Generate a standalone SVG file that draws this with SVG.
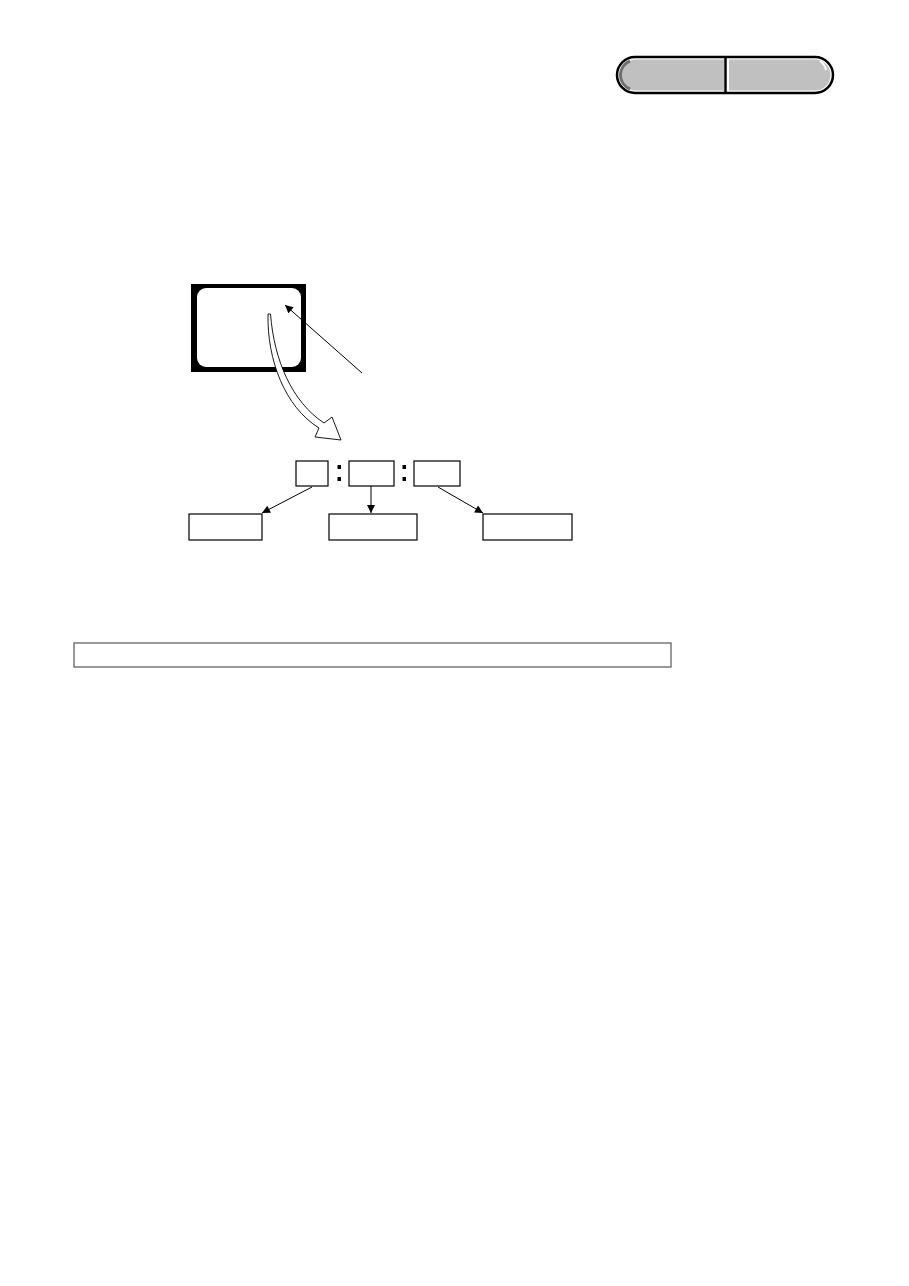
<svg xmlns="http://www.w3.org/2000/svg" width="909" height="1286" viewBox="0 0 909 1286">
<style>
.box{fill:#fff;stroke:#000;stroke-width:1.2}
.conn{stroke:#000;stroke-width:1;fill:none}
</style>
<defs>
<marker id="ah" viewBox="0 0 10 10" refX="10" refY="5" markerWidth="10" markerHeight="8" markerUnits="userSpaceOnUse" orient="auto">
<path d="M0,0 L10,5 L0,10 Z" fill="#000"/>
</marker>
</defs>
<rect width="909" height="1286" fill="#fff"/>
<g id="tab">
<rect x="617" y="57" width="216" height="36" rx="18" fill="#fff" stroke="#000" stroke-width="2.5"/>
<path d="M724,59.5 L636,59.5 A15.5,15.5 0 0 0 636,90.5 L724,90.5 Z" fill="#c0c0c0"/>
<path d="M630,61 A15,15 0 0 0 630,89" fill="none" stroke="#707070" stroke-width="3"/>
<path d="M729,59.5 L815,59.5 A15.5,15.5 0 0 1 815,90.5 L729,90.5 Z" fill="#c0c0c0"/>
<path d="M820,61 A14,14 0 0 1 826,70" fill="none" stroke="#fff" stroke-width="2"/>
<line x1="725.5" y1="57" x2="725.5" y2="93" stroke="#000" stroke-width="2.5"/>
</g>
<g id="monitor">
<rect x="191" y="284" width="115" height="88" fill="#000"/>
<rect x="197" y="288" width="104" height="79" rx="9" fill="#fff"/>
</g>
<g id="curved-arrow">
<path d="M268,314 C267,360 285,407 319,428 L315,437 L341,440 L332,417 L324,423 C292,402 274,360 270.5,314 Z" fill="#fff" stroke="#000" stroke-width="0.9" stroke-linejoin="miter"/>
</g>
<g id="t1"><rect class="box" x="296" y="461" width="32" height="25"/></g>
<g id="t2"><rect class="box" x="349" y="461" width="45" height="25"/></g>
<g id="t3"><rect class="box" x="414" y="461" width="46" height="25"/></g>
<g id="colons" fill="#000">
<rect x="337.5" y="465" width="3.5" height="4"/>
<rect x="337.5" y="477" width="3.5" height="4"/>
<rect x="402.5" y="465" width="3.5" height="4"/>
<rect x="402.5" y="477" width="3.5" height="4"/>
</g>
<g id="b1"><rect class="box" x="189" y="514" width="73" height="26"/></g>
<g id="b2"><rect class="box" x="329" y="514" width="88" height="26"/></g>
<g id="b3"><rect class="box" x="483" y="514" width="89" height="26"/></g>
<g id="bar"><rect x="74" y="643" width="597" height="24" fill="#fff" stroke="#555" stroke-width="1.2"/></g>
<g id="connectors">
<line class="conn" x1="362" y1="373" x2="285" y2="305" marker-end="url(#ah)"/>
<line class="conn" x1="312" y1="487" x2="262" y2="513" marker-end="url(#ah)"/>
<line class="conn" x1="371" y1="486" x2="371" y2="513" marker-end="url(#ah)"/>
<line class="conn" x1="438" y1="487" x2="483" y2="513" marker-end="url(#ah)"/>
</g>
</svg>
